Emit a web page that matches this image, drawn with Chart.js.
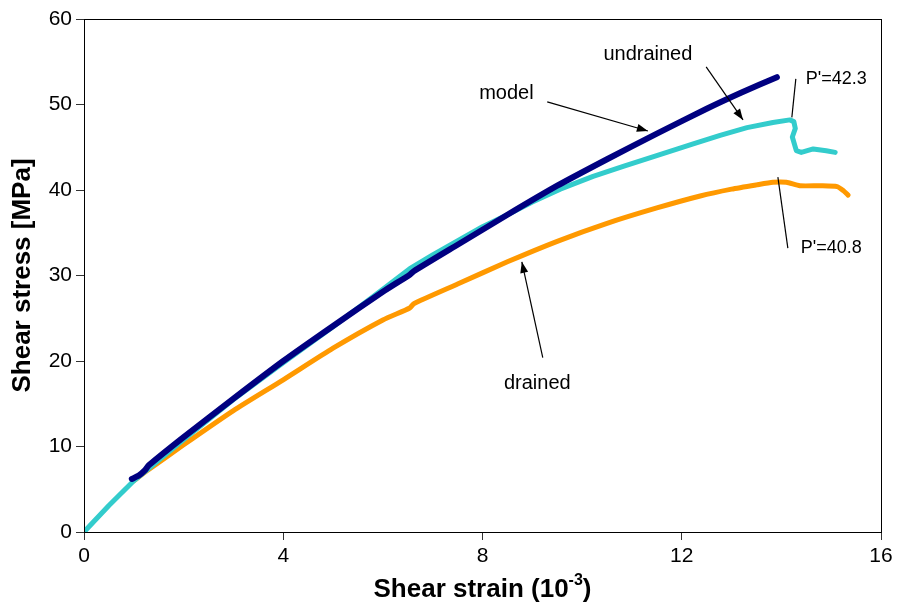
<!DOCTYPE html>
<html>
<head>
<meta charset="utf-8">
<script src="https://cdn.jsdelivr.net/npm/chart.js@4/dist/chart.umd.min.js"></script>
<style>
  body { margin: 0; background: #fff; }
  canvas { display: block; }
</style>
</head>
<body>
<canvas id="chart" width="898" height="606"></canvas>
<script>
// values (strain in 10^-3, stress in MPa)
const modelStrain = [0.96, 1.1, 1.22, 1.3, 2, 3, 4, 5, 6, 6.54, 6.62, 7.5, 8.5, 9.5, 10.5, 11.5, 12.5, 13.2, 13.91];
const modelStress = [6.2, 6.6, 7.2, 7.8, 11.1, 15.6, 20.0, 24.1, 28.1, 30.1, 30.5, 33.6, 37.1, 40.5, 43.6, 46.6, 49.5, 51.4, 53.2];

const undrainedStrain = [0, 0.5, 1, 2, 3, 4, 5, 6, 6.54, 7, 8, 8.5, 9, 9.56, 10.22, 10.84, 11.7, 12.23, 12.77, 13.31, 13.83, 14.17, 14.25, 14.28, 14.22, 14.3, 14.4, 14.64, 14.9, 15.08];
const undrainedStress = [0, 3.1, 6.0, 10.8, 15.5, 19.8, 24.0, 28.4, 30.8, 32.4, 35.7, 37.1, 38.6, 40.1, 41.6, 42.8, 44.4, 45.4, 46.4, 47.3, 47.9, 48.2, 48.0, 47.2, 46.2, 44.6, 44.4, 44.8, 44.6, 44.4];

const drainedStrain = [1.0, 1.3, 2, 3, 4, 5, 6, 6.54, 6.62, 7.5, 8.5, 9.5, 10.5, 11.5, 12.37, 13.0, 13.5, 13.83, 14.1, 14.37, 14.8, 15.12, 15.25, 15.34];
const drainedStress = [6.0, 7.3, 10.2, 14.2, 17.8, 21.5, 24.8, 26.2, 26.7, 29.0, 31.6, 34.0, 36.1, 37.9, 39.3, 40.1, 40.6, 40.9, 40.9, 40.5, 40.5, 40.4, 39.9, 39.4];

const xTicks = [0, 4, 8, 12, 16];
const yTicks = [0, 10, 20, 30, 40, 50, 60];

// labels: text, anchor point, line from/to (data units), arrowhead or not
const notes = [
  { text: "model", x: 8.48, y: 51.3, align: "center", size: 20, from: [9.30, 50.3], to: [11.32, 46.9], head: true },
  { text: "undrained", x: 11.32, y: 55.9, align: "center", size: 20, from: [12.49, 54.4], to: [13.23, 48.2], head: true },
  { text: "P'=42.3", x: 14.49, y: 53.0, align: "left", size: 18, from: [14.29, 53.0], to: [14.21, 48.5], head: false },
  { text: "P'=40.8", x: 14.39, y: 33.2, align: "left", size: 18, from: [13.93, 41.5], to: [14.13, 33.2], head: false },
  { text: "drained", x: 9.10, y: 17.4, align: "center", size: 20, from: [9.21, 20.4], to: [8.79, 31.6], head: true }
];

function toPoints(xs, ys) {
  return xs.map((x, i) => ({ x: x, y: ys[i] }));
}

const FONT = "'Liberation Sans', Arial, sans-serif";

const extras = {
  id: "extras",
  afterDatasetsDraw(chart) {
    const ctx = chart.ctx;
    const sx = chart.scales.x, sy = chart.scales.y;
    const a = chart.chartArea;
    ctx.save();
    // plot frame
    ctx.strokeStyle = "#000";
    ctx.lineWidth = 1;
    ctx.strokeRect(Math.round(a.left) + 0.5, Math.round(a.top) + 0.5, Math.round(a.right - a.left), Math.round(a.bottom - a.top));

    notes.forEach(n => {
      ctx.font = n.size + "px " + FONT;
      ctx.fillStyle = "#000";
      ctx.textAlign = n.align;
      ctx.textBaseline = "middle";
      ctx.fillText(n.text, sx.getPixelForValue(n.x), sy.getPixelForValue(n.y));

      const x1 = sx.getPixelForValue(n.from[0]), y1 = sy.getPixelForValue(n.from[1]);
      const x2 = sx.getPixelForValue(n.to[0]), y2 = sy.getPixelForValue(n.to[1]);
      ctx.strokeStyle = "#000";
      ctx.lineWidth = 1.2;
      ctx.beginPath();
      ctx.moveTo(x1, y1);
      ctx.lineTo(x2, y2);
      ctx.stroke();
      if (n.head) {
        const ang = Math.atan2(y2 - y1, x2 - x1);
        const len = 11, w = 4;
        ctx.beginPath();
        ctx.moveTo(x2, y2);
        ctx.lineTo(x2 - len * Math.cos(ang) + w * Math.sin(ang), y2 - len * Math.sin(ang) - w * Math.cos(ang));
        ctx.lineTo(x2 - len * Math.cos(ang) - w * Math.sin(ang), y2 - len * Math.sin(ang) + w * Math.cos(ang));
        ctx.closePath();
        ctx.fillStyle = "#000";
        ctx.fill();
      }
    });

    // axis titles
    ctx.fillStyle = "#000";
    ctx.textBaseline = "middle";
    const midX = (a.left + a.right) / 2;
    const bold = "bold 26px " + FONT;
    const sup = "bold 16px " + FONT;
    ctx.font = bold;
    const t1 = "Shear strain (10";
    const w1 = ctx.measureText(t1).width;
    ctx.font = sup;
    const w2 = ctx.measureText("-3").width;
    ctx.font = bold;
    const w3 = ctx.measureText(")").width;
    let tx = midX - (w1 + w2 + w3) / 2;
    const ty = 590;
    ctx.textAlign = "left";
    ctx.fillText(t1, tx, ty);
    ctx.font = sup;
    ctx.fillText("-3", tx + w1, ty - 9);
    ctx.font = bold;
    ctx.fillText(")", tx + w1 + w2, ty);

    ctx.save();
    ctx.translate(23, (a.top + a.bottom) / 2);
    ctx.rotate(-Math.PI / 2);
    ctx.textAlign = "center";
    ctx.font = bold;
    ctx.fillText("Shear stress [MPa]", 0, 0);
    ctx.restore();

    ctx.restore();
  }
};

new Chart(document.getElementById("chart"), {
  type: "scatter",
  data: {
    datasets: [
      { label: "model", data: toPoints(modelStrain, modelStress), borderColor: "#000080", borderWidth: 6, tension: 0.2 },
      { label: "undrained", data: toPoints(undrainedStrain, undrainedStress), borderColor: "#33CCCC", borderWidth: 5, tension: 0 },
      { label: "drained", data: toPoints(drainedStrain, drainedStress), borderColor: "#FF9900", borderWidth: 5, tension: 0.2 }
    ].map(d => Object.assign(d, { showLine: true, pointRadius: 0, fill: false, borderCapStyle: "round", borderJoinStyle: "round" }))
  },
  options: {
    responsive: false,
    animation: false,
    layout: { padding: { top: 19, right: 17, left: 0, bottom: 0 } },
    plugins: { legend: { display: false }, tooltip: { enabled: false } },
    scales: {
      x: {
        type: "linear", min: 0, max: 16,
        afterBuildTicks: s => { s.ticks = xTicks.map(v => ({ value: v })); },
        afterFit: s => { s.height = 74; },
        grid: { drawOnChartArea: false, drawTicks: true, tickLength: 8, color: "#333" },
        border: { color: "#000", width: 1 },
        ticks: { color: "#000", font: { family: FONT, size: 21 }, padding: 4 }
      },
      y: {
        type: "linear", min: 0, max: 60,
        afterBuildTicks: s => { s.ticks = yTicks.map(v => ({ value: v })); },
        afterFit: s => { s.width = 84; },
        grid: { drawOnChartArea: false, drawTicks: true, tickLength: 8, color: "#333" },
        border: { color: "#000", width: 1 },
        ticks: { color: "#000", font: { family: FONT, size: 21 }, padding: 4 }
      }
    }
  },
  plugins: [extras]
});
</script>
</body>
</html>
